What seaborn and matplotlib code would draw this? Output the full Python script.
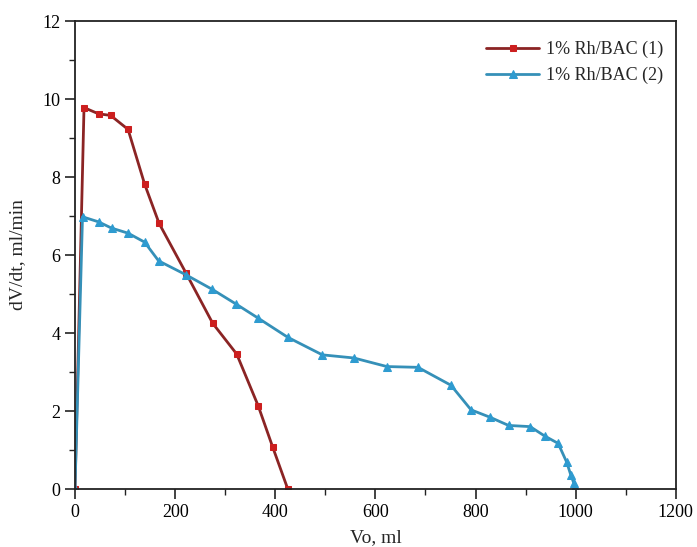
import numpy as np
import pandas as pd
import seaborn as sns
import matplotlib.pyplot as plt
from matplotlib.ticker import MultipleLocator

# Data
vo_1 = [0, 18, 47, 71, 106, 139, 168, 222, 275, 323, 366, 395, 425]
rate_1 = [0, 9.78, 9.62, 9.58, 9.22, 7.82, 6.81, 5.53, 4.25, 3.46, 2.13, 1.07, 0.0]

vo_2 = [0, 15, 47, 73, 106, 139, 167, 222, 274, 322, 366, 425, 494, 557, 623, 685,
        751, 791, 829, 866, 909, 938, 965, 982, 990, 996, 999]
rate_2 = [0, 6.98, 6.85, 6.69, 6.56, 6.33, 5.85, 5.49, 5.12, 4.74, 4.38, 3.89, 3.44, 3.36,
          3.14, 3.12, 2.66, 2.03, 1.84, 1.63, 1.60, 1.36, 1.17, 0.69, 0.37, 0.16, 0.05]

labels = ['1% Rh/BAC (1)', '1% Rh/BAC (2)']

sns.set_style('ticks')
plt.rcParams['font.family'] = ['Liberation Serif', 'DejaVu Serif']

fig = plt.figure(figsize=(6.97, 5.47), dpi=100)
ax = fig.add_axes([0.1076, 0.106, 0.862, 0.8556])

sns.lineplot(x=vo_1, y=rate_1, ax=ax, sort=False, color='#8b2424', lw=2,
             marker='s', markersize=5, markerfacecolor='#cc1f1f', markeredgecolor='#cc1f1f',
             label=labels[0])
sns.lineplot(x=vo_2, y=rate_2, ax=ax, sort=False, color='#3590b8', lw=2,
             marker='^', markersize=6, markerfacecolor='#2e9bd0', markeredgecolor='#2e9bd0',
             label=labels[1])

ax.set_xlim(0, 1200)
ax.set_ylim(0, 12)
ax.xaxis.set_major_locator(MultipleLocator(200))
ax.xaxis.set_minor_locator(MultipleLocator(100))
ax.yaxis.set_major_locator(MultipleLocator(2))
ax.yaxis.set_minor_locator(MultipleLocator(1))
ax.tick_params(which='major', direction='out', length=7, width=1.2, labelsize=13, colors='#222222')
ax.tick_params(which='minor', direction='out', length=4, width=1.0, colors='#222222')
ax.tick_params(labelcolor='black')
for s in ax.spines.values():
    s.set_linewidth(1.3)
    s.set_color('#222222')

ax.set_xlabel('Vo, ml', fontsize=14, labelpad=6)
ax.set_ylabel('dV/dt, ml/min', fontsize=14, labelpad=12)

ax.legend(loc='upper right', frameon=False, fontsize=13, handlelength=2.9,
          handletextpad=0.4, bbox_to_anchor=(1.0, 0.985), borderaxespad=0.3)

fig.savefig('out.png', dpi=100)
